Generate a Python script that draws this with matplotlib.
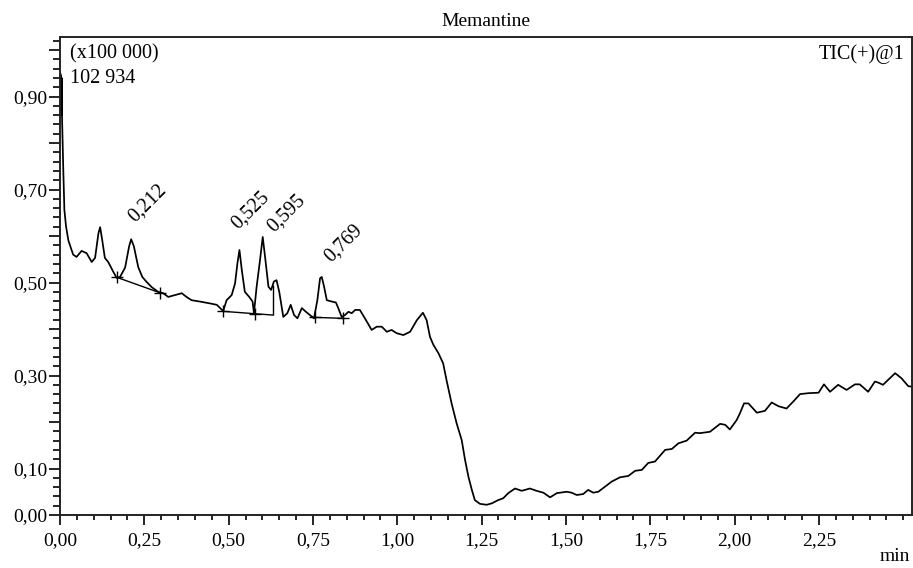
import numpy as np
import matplotlib
matplotlib.use('Agg')
import matplotlib.pyplot as plt
from matplotlib.ticker import MultipleLocator, FixedLocator, FuncFormatter

plt.rcParams['font.family'] = ['Liberation Serif', 'DejaVu Serif']

# --- TIC trace (min, x100 000 counts) ---
time_min = [
    0.000, 0.001, 0.002, 0.003, 0.004, 0.005, 0.006, 0.010, 0.013, 0.018,
    0.025, 0.039,
    0.049, 0.064, 0.079, 0.094, 0.104, 0.114, 0.119, 0.125, 0.133, 0.143,
    0.158, 0.168, 0.178, 0.193, 0.205, 0.211, 0.219, 0.232, 0.244, 0.257,
    0.272, 0.291, 0.306, 0.321, 0.341, 0.361, 0.375, 0.390, 0.415, 0.445,
    0.465, 0.479, 0.484, 0.494, 0.509, 0.519, 0.526, 0.532, 0.539, 0.548,
    0.561, 0.571, 0.575, 0.583, 0.593, 0.601, 0.608, 0.618, 0.626, 0.634,
    0.642, 0.650, 0.662, 0.674, 0.684, 0.694, 0.704, 0.717, 0.729, 0.741,
    0.753, 0.763, 0.771, 0.776, 0.783, 0.791, 0.806, 0.818, 0.825, 0.835,
    0.845, 0.855, 0.865, 0.875, 0.889, 0.904, 0.924, 0.939, 0.954, 0.969,
    0.983, 0.998, 1.018, 1.038, 1.058, 1.076, 1.087, 1.097, 1.107, 1.122,
    1.136, 1.146, 1.161, 1.176, 1.191, 1.201, 1.211, 1.221, 1.230, 1.245,
    1.265, 1.280, 1.299, 1.314, 1.329, 1.349, 1.369, 1.393, 1.413, 1.433,
    1.453, 1.473, 1.502, 1.517, 1.532, 1.551, 1.566, 1.581, 1.596, 1.616,
    1.636, 1.660, 1.685, 1.705, 1.725, 1.744, 1.764, 1.794, 1.814, 1.833,
    1.858, 1.883, 1.897, 1.927, 1.957, 1.972, 1.986, 2.006, 2.016, 2.028,
    2.041, 2.066, 2.090, 2.110, 2.130, 2.154, 2.174, 2.194, 2.219, 2.249,
    2.265, 2.283, 2.307, 2.332, 2.357, 2.371, 2.396, 2.416, 2.425, 2.440,
    2.476, 2.495, 2.515, 2.526,
]
intensity = [
    0.860, 0.950, 0.870, 0.945, 0.860, 0.940, 0.856, 0.735, 0.656, 0.620,
    0.590, 0.560,
    0.555, 0.568, 0.563, 0.544, 0.553, 0.606, 0.619, 0.592, 0.553, 0.544,
    0.523, 0.510, 0.512, 0.532, 0.578, 0.593, 0.578, 0.533, 0.512, 0.501,
    0.490, 0.480, 0.477, 0.469, 0.473, 0.477, 0.469, 0.462, 0.459, 0.455,
    0.452, 0.442, 0.439, 0.462, 0.473, 0.498, 0.541, 0.570, 0.527, 0.480,
    0.469, 0.459, 0.434, 0.491, 0.548, 0.598, 0.555, 0.491, 0.484, 0.502,
    0.505, 0.480, 0.426, 0.434, 0.452, 0.430, 0.423, 0.445, 0.437, 0.430,
    0.423, 0.462, 0.509, 0.512, 0.491, 0.462, 0.459, 0.457, 0.445, 0.426,
    0.430, 0.437, 0.434, 0.441, 0.441, 0.423, 0.398, 0.405, 0.405, 0.394,
    0.398, 0.391, 0.387, 0.394, 0.419, 0.435, 0.419, 0.383, 0.366, 0.348,
    0.326, 0.290, 0.240, 0.197, 0.161, 0.118, 0.082, 0.054, 0.032, 0.024,
    0.022, 0.025, 0.032, 0.036, 0.047, 0.057, 0.052, 0.057, 0.052, 0.048,
    0.038, 0.047, 0.050, 0.048, 0.043, 0.045, 0.054, 0.048, 0.050, 0.061,
    0.072, 0.081, 0.084, 0.095, 0.097, 0.112, 0.115, 0.140, 0.142, 0.154,
    0.160, 0.177, 0.176, 0.179, 0.196, 0.194, 0.184, 0.204, 0.219, 0.240,
    0.240, 0.220, 0.224, 0.242, 0.234, 0.229, 0.244, 0.260, 0.262, 0.263,
    0.281, 0.265, 0.280, 0.269, 0.281, 0.281, 0.265, 0.287, 0.285, 0.280,
    0.305, 0.294, 0.277, 0.276,
]

# integrated peaks: retention time labels and their baselines
peak_rt = [0.212, 0.525, 0.595, 0.769]
peak_lbl = ['0,212', '0,525', '0,595', '0,769']
base_t0 = [0.169, 0.484, 0.756]
base_y0 = [0.511, 0.438, 0.425]
base_t1 = [0.296, 0.631, 0.838]
base_y1 = [0.478, 0.430, 0.423]
mark_t = [0.169, 0.296, 0.484, 0.577, 0.756, 0.838]
drop_t = [0.631]

x_ticks = [0.0, 0.25, 0.5, 0.75, 1.0, 1.25, 1.5, 1.75, 2.0, 2.25]

fig = plt.figure(figsize=(9.13, 5.68), dpi=100)
ax = fig.add_axes([60 / 913, 1 - 515 / 568, 852 / 913, 478 / 568])

t = np.array(time_min)
y = np.array(intensity)
ax.plot(t, y, color='black', lw=1.25)

# baselines + start/end marks
for a, b, c, d in zip(base_t0, base_y0, base_t1, base_y1):
    ax.plot([a, c], [b, d], color='black', lw=1.0)
bt = np.concatenate([base_t0, base_t1])
by = np.concatenate([base_y0, base_y1])
order = np.argsort(bt)
mark_y = [np.interp(m, bt[order], by[order]) for m in mark_t]
ax.plot(mark_t, mark_y, ls='none', marker='+', ms=9, mew=1.0, color='black')
for dt in drop_t:
    ax.vlines(dt, np.interp(dt, bt[order], by[order]), np.interp(dt, t, y),
              color='black', lw=1.0)

# peak labels, rotated like the LabSolutions print
offs = [(4, 17), (-2, 20), (11, 4), (9, 14)]
for rt, lbl, (dx, dy) in zip(peak_rt, peak_lbl, offs):
    win = (t > rt - 0.02) & (t < rt + 0.02)
    i = np.argmax(np.where(win, y, -1))
    ax.annotate(lbl, (t[i], y[i]), xytext=(dx, dy), textcoords='offset pixels',
                rotation=45, rotation_mode='anchor', ha='left', va='baseline',
                fontsize=14.5)

ax.set_xlim(0, 2.526)
ax.set_ylim(0, 1.028)

ax.xaxis.set_major_locator(FixedLocator(x_ticks))
ax.xaxis.set_minor_locator(MultipleLocator(0.05))
ax.yaxis.set_major_locator(MultipleLocator(0.1))
ax.yaxis.set_minor_locator(MultipleLocator(0.02))
ax.xaxis.set_major_formatter(FuncFormatter(lambda v, p: f"{v:.2f}".replace('.', ',')))

def ylab(v, p):
    k = int(round(v * 10))
    if k == 0 or k % 2 == 1:
        return f"{v:.2f}".replace('.', ',')
    return ''

ax.yaxis.set_major_formatter(FuncFormatter(ylab))

ax.tick_params(axis='x', which='major', direction='out', length=7, width=1.2,
               pad=5, labelsize=14)
ax.tick_params(axis='x', which='minor', direction='out', length=3.5, width=1.2)
ax.tick_params(axis='y', which='major', direction='out', length=8, width=1.2,
               pad=1, labelsize=14)
ax.tick_params(axis='y', which='minor', direction='out', length=5, width=1.2)

for s in ax.spines.values():
    s.set_color('#222222')
    s.set_linewidth(1.4)

ax.text(0.0117, 0.956, '(x100 000)', transform=ax.transAxes, fontsize=14.5,
        ha='left', va='baseline')
ax.text(0.0117, 0.904, '102 934', transform=ax.transAxes, fontsize=14.5,
        ha='left', va='baseline')
ax.text(0.9906, 0.954, 'TIC(+)@1', transform=ax.transAxes, fontsize=14.5,
        ha='right', va='baseline')

fig.text(486 / 913, 1 - 26 / 568, 'Memantine', ha='center', va='baseline', fontsize=14)
fig.text(910 / 913, 1 - 561 / 568, 'min', ha='right', va='baseline', fontsize=14)

fig.savefig('out.png', dpi=100, facecolor='white')
